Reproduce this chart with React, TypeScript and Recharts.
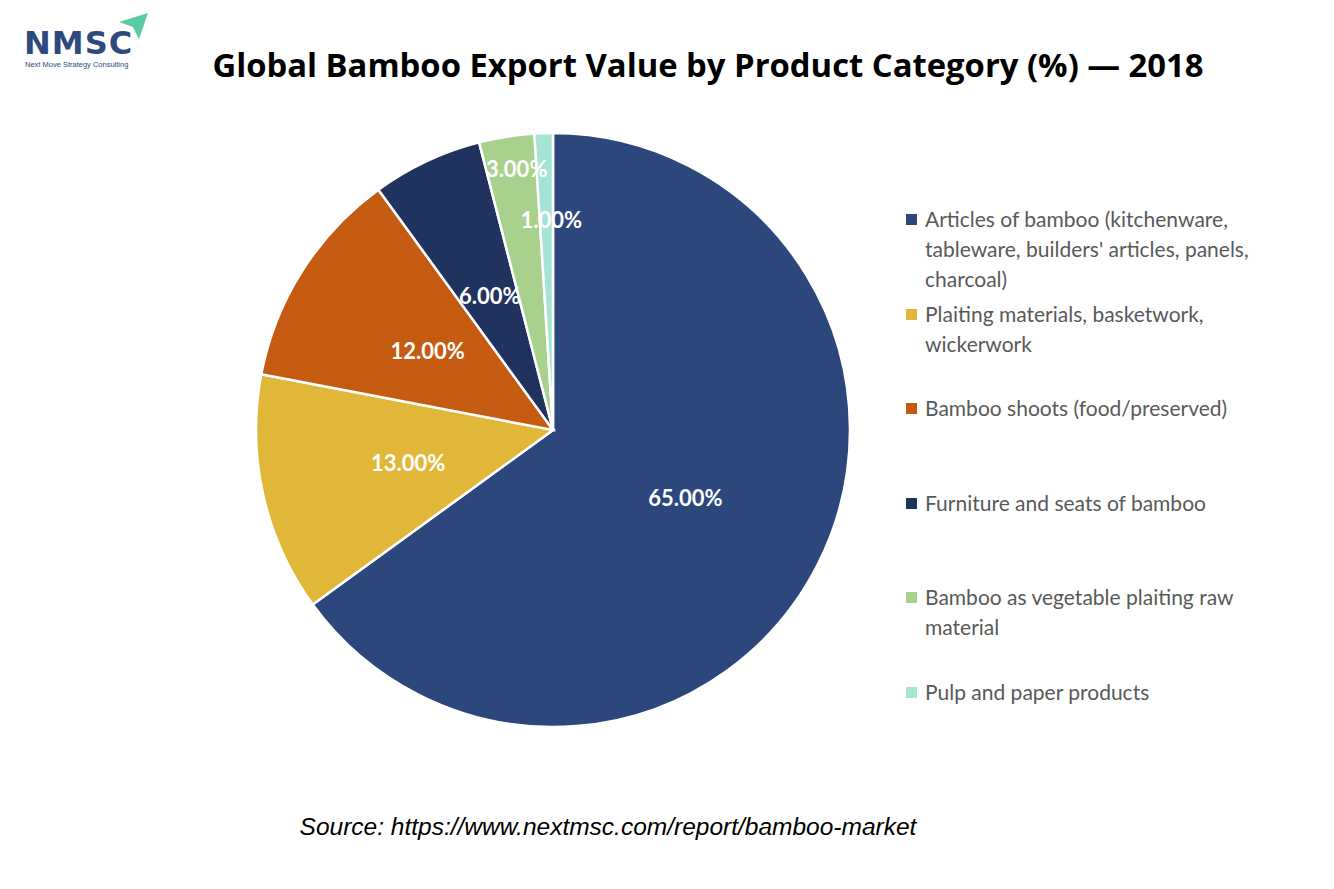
import React from "react";
import { PieChart, Pie, Cell, Legend } from "recharts";

const categories = [
  "Articles of bamboo (kitchenware, tableware, builders' articles, panels, charcoal)",
  "Plaiting materials, basketwork, wickerwork",
  "Bamboo shoots (food/preserved)",
  "Furniture and seats of bamboo",
  "Bamboo as vegetable plaiting raw material",
  "Pulp and paper products",
];
const shares = [65, 13, 12, 6, 3, 1];
const colors = ["#2C477B", "#E1B73A", "#C55A11", "#1F335E", "#A9D18E", "#A3E5D2"];

const data = categories.map((name, i) => ({ name, value: shares[i] }));

// where each data label sits, as a share of the radius (small slices pushed outward)
const labelRadius = [0.5, 0.5, 0.5, 0.5, 0.89, 0.71];

const RAD = Math.PI / 180;
const FONT = "Lato, 'Open Sans', sans-serif";

function renderLabel(props: any) {
  const { cx, cy, midAngle, outerRadius, value, index } = props;
  const r = outerRadius * labelRadius[index];
  const x = cx + r * Math.cos(-midAngle * RAD) + (index >= 4 ? 5 : 0);
  const y = cy + r * Math.sin(-midAngle * RAD);
  return (
    <text
      x={x}
      y={y}
      fill="#ffffff"
      textAnchor="middle"
      dominantBaseline="central"
      style={{ fontFamily: FONT, fontWeight: 700, fontSize: 22 }}
    >
      {value.toFixed(2)}%
    </text>
  );
}

function LegendBox() {
  return (
    <div style={{ fontFamily: FONT, fontSize: 21, color: "#595959", lineHeight: "30px" }}>
      {categories.map((name, i) => (
        <div key={name} style={{ display: "flex", height: 94.6 }}>
          <div
            style={{
              width: 11,
              height: 11,
              background: colors[i],
              marginTop: 10,
              marginRight: 8,
              flexShrink: 0,
            }}
          />
          <div style={{ width: 380 }}>{name}</div>
        </div>
      ))}
    </div>
  );
}

function Logo() {
  return (
    <svg width={170} height={75} style={{ position: "absolute", left: 0, top: 0 }}>
      <polygon points="119,22 148,13 139,39 133,27" fill="#5CC9A7" />
      <text
        x={24}
        y={54}
        fill="#2E4A7D"
        style={{ fontFamily: "'DejaVu Sans', sans-serif", fontWeight: 700, fontSize: 32, letterSpacing: 1 }}
      >
        NMSC
      </text>
      <text x={25} y={67} fill="#2E4A7D" style={{ fontFamily: "'Liberation Sans', sans-serif", fontSize: 7.5 }}>
        Next Move Strategy Consulting
      </text>
    </svg>
  );
}

export default function App() {
  return (
    <div style={{ position: "relative", width: 1334, height: 889, background: "#ffffff", overflow: "hidden" }}>
      <style>{"body{margin:0}"}</style>
      <Logo />
      <div
        style={{
          position: "absolute",
          left: 0,
          top: 42,
          width: 1416,
          textAlign: "center",
          fontFamily: "'Open Sans', sans-serif",
          fontWeight: 700,
          fontSize: 32.8,
          color: "#000000",
          whiteSpace: "nowrap",
        }}
      >
        Global Bamboo Export Value by Product Category (%) — 2018
      </div>
      <PieChart width={1334} height={889} margin={{ top: 0, right: 0, bottom: 0, left: 0 }}>
        <Pie
          data={data}
          dataKey="value"
          nameKey="name"
          cx={553}
          cy={430}
          outerRadius={297}
          startAngle={90}
          endAngle={-270}
          stroke="#ffffff"
          strokeWidth={2.5}
          label={renderLabel}
          labelLine={false}
          isAnimationActive={false}
        >
          {data.map((d, i) => (
            <Cell key={d.name} fill={colors[i]} />
          ))}
        </Pie>
        <Legend
          layout="vertical"
          align="right"
          verticalAlign="top"
          content={<LegendBox />}
          wrapperStyle={{ left: 906, top: 204, width: 420 }}
        />
      </PieChart>
      <div
        style={{
          position: "absolute",
          left: 0,
          top: 813,
          width: 1216,
          textAlign: "center",
          fontFamily: "'Liberation Sans', Arial, sans-serif",
          fontStyle: "italic",
          fontSize: 24.5,
          color: "#000000",
        }}
      >
        Source: https://www.nextmsc.com/report/bamboo-market
      </div>
    </div>
  );
}
